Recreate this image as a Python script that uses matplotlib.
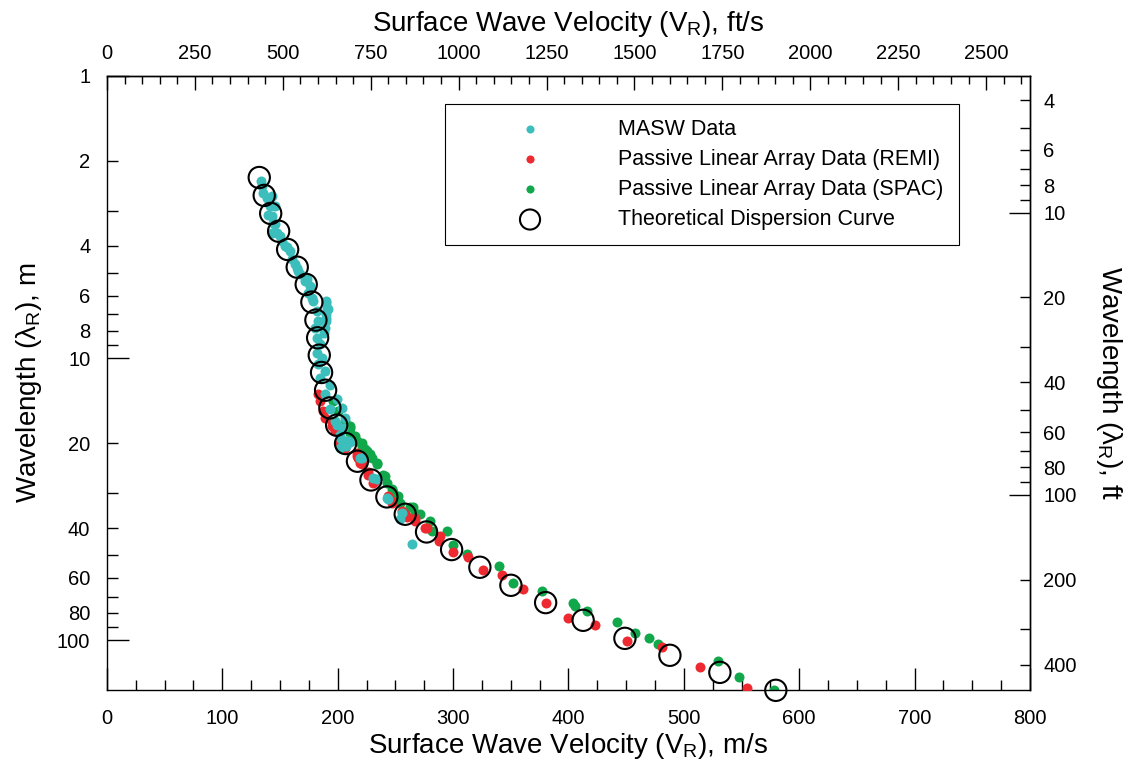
import matplotlib
matplotlib.use("Agg")
import matplotlib.pyplot as plt
import numpy as np
from matplotlib.ticker import FixedLocator

plt.rcParams['font.family'] = ['Liberation Sans', 'DejaVu Sans']
plt.rcParams['mathtext.fontset'] = 'custom'
plt.rcParams['mathtext.rm'] = 'Liberation Sans'
plt.rcParams['mathtext.it'] = 'Liberation Sans:italic'

FT = 3.28084

# MASW data (velocity m/s, wavelength m)
masw_v = [133.2, 134.0, 135.5, 138.4, 142.7, 141.2, 145.6, 139.8, 142.7, 144.1,
          145.6, 142.7, 147.0, 149.9, 152.0, 154.2, 155.7, 158.6, 160.0, 162.9,
          164.4, 165.8, 167.2, 171.6, 173.0, 175.9, 174.4, 177.3, 178.8, 190.2,
          190.2, 190.9, 191.6, 181.7, 190.2, 190.2, 183.1, 189.8, 188.9, 180.2,
          188.3, 182.2, 184.6, 182.2, 186.0, 183.1, 188.9, 184.6, 193.2, 188.9,
          199.1, 193.2, 203.3, 206.2, 197.6, 199.0, 204.8, 201.9, 203.0, 209.1,
          207.7, 210.6, 201.9, 207.6, 219.0, 220.7, 230.8, 233.7, 242.9, 243.8,
          255.4, 253.9, 264.0]
masw_l = [2.36, 2.45, 2.59, 2.70, 2.66, 2.89, 2.89, 3.10, 3.14, 3.31,
          3.36, 3.59, 3.59, 3.69, 3.85, 4.01, 4.05, 4.17, 4.47, 4.65,
          4.78, 4.91, 5.05, 5.33, 5.25, 5.55, 5.87, 6.12, 6.28, 6.28,
          6.36, 6.63, 6.72, 6.81, 7.00, 7.19, 7.38, 7.38, 7.80, 7.80,
          8.13, 8.47, 8.94, 9.56, 9.96, 10.51, 11.1, 11.72, 12.4, 13.4,
          14.0, 15.2, 15.0, 16.3, 16.7, 17.2, 17.7, 18.7, 19.4, 19.7,
          19.7, 19.9, 20.8, 20.5, 22.6, 22.6, 26.6, 26.9, 31.3, 31.6,
          35.4, 37.2, 45.5]

# Passive linear array, REMI
remi_v = [183.1, 184.6, 187.5, 188.9, 194.7, 194.7, 197.6, 201.9, 204.8, 206.2,
          216.3, 216.3, 217.8, 220.7, 219.2, 220.7, 226.4, 226.4, 232.2, 230.8,
          243.8, 243.8, 246.7, 246.7, 255.4, 258.2, 259.7, 266.9, 266.9, 275.6,
          277.0, 288.6, 288.0, 299.6, 313.1, 326.1, 342.0, 360.7, 380.2, 399.2,
          422.9, 450.6, 481.0, 514.0, 555.0]
remi_l = [13.4, 14.2, 15.4, 16.3, 16.9, 17.4, 18.1, 20.0, 20.2, 20.8,
          21.7, 22.3, 22.6, 22.9, 23.5, 23.8, 25.4, 25.9, 27.3, 27.6,
          30.8, 31.2, 32.1, 32.5, 34.8, 35.8, 36.7, 37.0, 37.8, 39.9,
          40.1, 42.7, 44.5, 48.8, 50.8, 56.4, 58.8, 65.6, 73.6, 83.6,
          87.9, 100.4, 106.0, 124.0, 147.0]

# Passive linear array, SPAC
spac_v = [196.1, 200.4, 206.2, 210.6, 210.6, 210.6, 214.9, 216.3, 220.7, 220.7,
          223.6, 225.0, 227.9, 229.4, 233.7, 233.7, 239.5, 240.9, 242.4, 246.7,
          248.1, 252.4, 253.9, 262.6, 265.4, 266.9, 271.2, 279.9, 281.4, 294.4,
          300.1, 311.7, 339.7, 352.1, 377.2, 404.1, 405.5, 415.7, 442.0, 458.0,
          470.0, 478.0, 530.0, 548.0, 578.0]
spac_l = [14.2, 15.4, 16.7, 17.4, 17.7, 18.4, 18.9, 19.7, 20.0, 20.5,
          21.0, 21.3, 21.9, 22.6, 23.5, 23.8, 25.9, 26.2, 27.6, 29.2,
          29.9, 30.8, 32.5, 33.8, 33.8, 35.4, 35.8, 37.8, 41.0, 41.0,
          46.1, 49.3, 54.6, 62.6, 67.0, 73.6, 75.4, 78.8, 86.0, 94.0,
          98.0, 103.0, 118.0, 135.0, 150.0]

# Theoretical dispersion curve
theo_v = [132.0, 136.3, 141.9, 148.8, 156.6, 164.9, 172.7, 177.6, 181.1, 182.6,
          184.0, 186.0, 189.5, 193.2, 199.1, 206.8, 217.1, 228.8, 242.6, 258.5,
          277.0, 298.7, 323.2, 350.1, 380.2, 412.7, 448.9, 487.9, 531.2, 579.7]
theo_l = [2.29, 2.65, 3.07, 3.55, 4.12, 4.76, 5.48, 6.33, 7.33, 8.47,
          9.76, 11.24, 12.99, 15.01, 17.28, 20.07, 23.19, 27.02, 31.03, 35.75,
          41.30, 47.69, 55.09, 63.83, 73.51, 84.94, 98.4, 113.0, 129.9, 150.4]

teal = '#3cbfbc'
red = '#ee2a30'
green = '#10a84a'

fig = plt.figure(figsize=(11.33, 7.59), dpi=100)
ax = fig.add_axes([0.0944, 0.0909, 0.8147, 0.8090])

ax.scatter(spac_v, spac_l, s=52, color=green, lw=0, zorder=2,
           label='Passive Linear Array Data (SPAC)')
ax.scatter(remi_v, remi_l, s=52, color=red, lw=0, zorder=3,
           label='Passive Linear Array Data (REMI)')
ax.scatter(masw_v, masw_l, s=52, color=teal, lw=0, zorder=4, label='MASW Data')
ax.scatter(theo_v, theo_l, s=235, facecolor='none', edgecolor='black', lw=1.5,
           zorder=5, label='Theoretical Dispersion Curve', clip_on=False)

ax.set_yscale('log')
ax.set_xlim(0, 800)
ax.set_ylim(150, 1)

TICKFS = 14.5
LABFS = 20

# bottom axis
ax.xaxis.set_major_locator(FixedLocator(np.arange(0, 801, 100)))
ax.xaxis.set_minor_locator(FixedLocator(np.arange(0, 801, 25)))
ax.tick_params(axis='x', which='major', direction='in', length=16, width=1, labelsize=TICKFS, pad=14)
ax.tick_params(axis='x', which='minor', direction='in', length=7, width=1)
ax.set_xlabel('Surface Wave Velocity (V$_\\mathrm{R}$), m/s', fontsize=LABFS, labelpad=2)

# left axis
ax.yaxis.set_major_locator(FixedLocator([1, 10, 100]))
ax.yaxis.set_major_formatter(plt.FixedFormatter(['1', '10', '100']))
left_minor = [2, 3, 4, 5, 6, 7, 8, 9, 20, 30, 40, 50, 60, 70, 80, 90]
left_minor_lbl = ['2', '', '4', '', '6', '', '8', '', '20', '', '40', '', '60', '', '80', '']
ax.yaxis.set_minor_locator(FixedLocator(left_minor))
ax.yaxis.set_minor_formatter(plt.FixedFormatter(left_minor_lbl))
ax.tick_params(axis='y', which='major', direction='in', length=16, width=1, labelsize=TICKFS, pad=12)
ax.tick_params(axis='y', which='minor', direction='in', length=8, width=1, labelsize=TICKFS, pad=12)
ax.set_ylabel('Wavelength (λ$_\\mathrm{R}$), m', fontsize=LABFS, labelpad=9)

# top axis in ft/s
top = ax.secondary_xaxis('top', functions=(lambda v: v * FT, lambda f: f / FT))
top.xaxis.set_major_locator(FixedLocator(np.arange(0, 2501, 250)))
top.xaxis.set_minor_locator(FixedLocator(np.arange(0, 2601, 50)))
top.tick_params(axis='x', which='major', direction='in', length=10, width=1, labelsize=TICKFS, pad=9)
top.tick_params(axis='x', which='minor', direction='in', length=6, width=1)
top.set_xlabel('Surface Wave Velocity (V$_\\mathrm{R}$), ft/s', fontsize=LABFS, labelpad=10)

# right axis in ft
right = ax.secondary_yaxis('right', functions=(lambda m: m * FT, lambda f: f / FT))
right.yaxis.set_major_locator(FixedLocator([10, 100]))
right.yaxis.set_major_formatter(plt.FixedFormatter(['10', '100']))
right_minor = [4, 5, 6, 7, 8, 9, 20, 30, 40, 50, 60, 70, 80, 90, 200, 300, 400]
right_minor_lbl = ['4', '', '6', '', '8', '', '20', '', '40', '', '60', '', '80', '', '200', '', '400']
right.yaxis.set_minor_locator(FixedLocator(right_minor))
right.yaxis.set_minor_formatter(plt.FixedFormatter(right_minor_lbl))
right.tick_params(axis='y', which='major', direction='in', length=15, width=1, labelsize=TICKFS, pad=9.5)
right.tick_params(axis='y', which='minor', direction='in', length=7, width=1, labelsize=TICKFS, pad=9.5)
right.set_ylabel('Wavelength (λ$_\\mathrm{R}$), ft', fontsize=LABFS, rotation=-90, labelpad=34)

for sp in list(ax.spines.values()) + list(top.spines.values()) + list(right.spines.values()):
    sp.set_linewidth(1.0)

handles, labels = ax.get_legend_handles_labels()
order = [2, 1, 0, 3]
leg = ax.legend([handles[i] for i in order], [labels[i] for i in order],
                loc='upper left', bbox_to_anchor=(0.3662, 0.9544), borderaxespad=0,
                fontsize=15.5, frameon=True, fancybox=False, edgecolor='black',
                framealpha=1, borderpad=0.7, handlelength=6.5, handletextpad=0.85,
                labelspacing=0.42, scatterpoints=1)
leg.get_frame().set_linewidth(0.8)
for h in leg.legend_handles[:3]:
    h.set_sizes([34])
leg.legend_handles[3].set_sizes([210])

fig.savefig('out.png', dpi=100)
